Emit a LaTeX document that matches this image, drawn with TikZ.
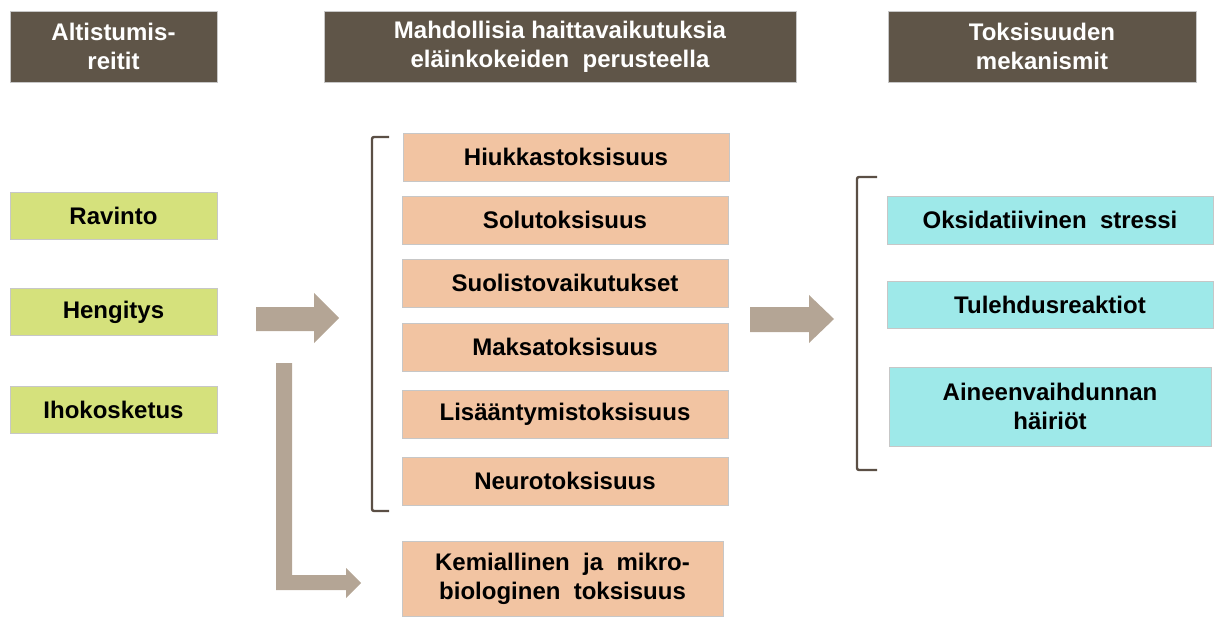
\documentclass[tikz,border=0pt]{standalone}
\usepackage{fontspec}
\setmainfont{Liberation Sans}
\definecolor{hdr}{HTML}{5F5548}
\definecolor{grn}{HTML}{D5E17C}
\definecolor{pch}{HTML}{F2C4A2}
\definecolor{cyn}{HTML}{9EE9E9}
\definecolor{arr}{HTML}{B4A595}
\definecolor{brk}{HTML}{5B4F45}
\tikzset{
  base/.style={inner sep=0pt, align=center, font=\fontsize{24}{29}\selectfont\bfseries, draw=black!22, line width=0.8pt},
  hdrbox/.style={base, fill=hdr, text=white, minimum height=71pt},
  grnbox/.style={base, fill=grn, minimum width=207pt, minimum height=47pt},
  pchbox/.style={base, fill=pch, minimum width=326pt, minimum height=48pt},
  cynbox/.style={base, fill=cyn},
  blockarrow/.style={fill=arr, draw=none},
  bracketline/.style={draw=brk, line width=2.4pt, rounded corners=2pt}
}
\begin{document}
\begin{tikzpicture}[x=1pt,y=-1pt]
\useasboundingbox (0,0) rectangle (1214,617);
% headers
\node[hdrbox, minimum width=207pt] (h1) at (113.5,46.5) {Altistumis-\\reitit};
\node[hdrbox, minimum width=472pt] (h2) at (560,46.5) {Mahdollisia haittavaikutuksia\\eläinkokeiden\ \ perusteella};
\node[hdrbox, minimum width=308pt] (h3) at (1042,46.5) {Toksisuuden\\mekanismit};
% left column
\node[grnbox] (ravinto) at (113.5,215.5) {Ravinto};
\node[grnbox] (hengitys) at (113.5,312) {Hengitys};
\node[grnbox] (iho) at (113.5,410) {Ihokosketus};
% middle column
\node[pchbox] (hiuk) at (566,157) {Hiukkastoksisuus};
\node[pchbox] (solu) at (565,220) {Solutoksisuus};
\node[pchbox] (suol) at (565,283) {Suolistovaikutukset};
\node[pchbox] (maksa) at (565,347) {Maksatoksisuus};
\node[pchbox] (lisa) at (565,414) {Lisääntymistoksisuus};
\node[pchbox] (neuro) at (565,481) {Neurotoksisuus};
\node[pchbox, minimum width=321pt, minimum height=75pt] (kem) at (562.5,578.5) {Kemiallinen\ \ ja\ \ mikro-\\biologinen\ \ toksisuus};
% right column
\node[cynbox, minimum width=326pt, minimum height=48pt] (oks) at (1050,220) {Oksidatiivinen\ \ stressi};
\node[cynbox, minimum width=326pt, minimum height=47pt] (tul) at (1050,304.5) {Tulehdusreaktiot};
\node[cynbox, minimum width=322pt, minimum height=79pt] (aine) at (1050,406.5) {Aineenvaihdunnan\\häiriöt};
% brackets
\coordinate (lb1) at (389,137);
\coordinate (lb2) at (389,511);
\draw[bracketline] (lb1) -- (372,137) -- (372,511) -- (lb2);
\coordinate (rb1) at (877,177);
\coordinate (rb2) at (877,470);
\draw[bracketline] (rb1) -- (857,177) -- (857,470) -- (rb2);
% block arrows
\fill[blockarrow] (256,307) -- (314,307) -- (314,293) -- (339,318) -- (314,343) -- (314,331) -- (256,331) -- cycle;
\fill[blockarrow] (750,307) -- (809,307) -- (809,295) -- (834,319) -- (809,343) -- (809,332) -- (750,332) -- cycle;
\fill[blockarrow] (276,363) -- (292,363) -- (292,575) -- (346,575) -- (346,568) -- (361,583) -- (346,598) -- (346,590) -- (276,590) -- cycle;
\end{tikzpicture}
\end{document}
